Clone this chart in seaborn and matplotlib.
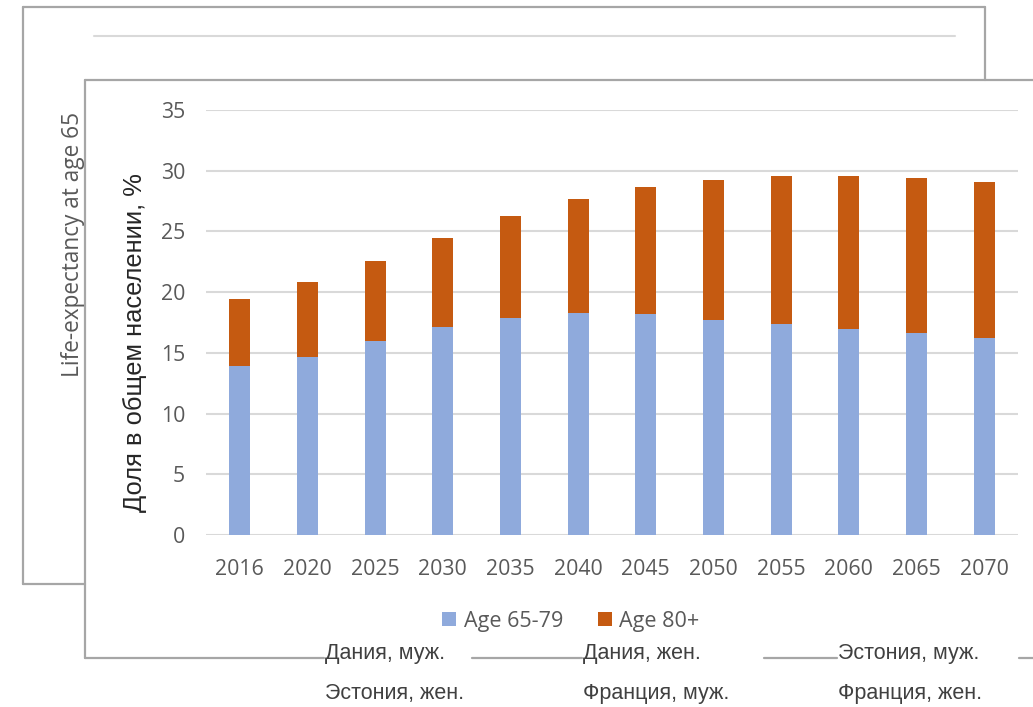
import matplotlib
matplotlib.use("Agg")
import matplotlib.pyplot as plt
from matplotlib.lines import Line2D
from matplotlib.patches import Patch
import seaborn as sns
import pandas as pd

# ---- data ----
years = ["2016", "2020", "2025", "2030", "2035", "2040", "2045", "2050", "2055", "2060", "2065", "2070"]
age_65_79 = [13.9, 14.7, 16.0, 17.1, 17.9, 18.3, 18.2, 17.7, 17.4, 17.0, 16.6, 16.2]
age_80_plus = [5.5, 6.1, 6.6, 7.4, 8.4, 9.4, 10.5, 11.5, 12.2, 12.6, 12.8, 12.9]
series_names = ["Age 65-79", "Age 80+"]
y_ticks = [0, 5, 10, 15, 20, 25, 30, 35]
back_legend = ["Дания, муж.", "Дания, жен.", "Эстония, муж.",
               "Эстония, жен.", "Франция, муж.", "Франция, жен."]
back_ylabel = "Life-expectancy at age 65"
front_ylabel = "Доля в общем населении, %"

BLUE = "#8FAADC"
ORANGE = "#C55A11"
GRID = "#D9D9D9"
TXT = "#595959"
BORDER = "#A6A6A6"

sns.set_theme(style="white")
plt.rcParams["font.family"] = ["Open Sans", "DejaVu Sans"]

W, H = 1033, 707
fig = plt.figure(figsize=(W / 100, H / 100), dpi=100)

def fx(x):
    return x / W

def fy(y):
    return 1 - y / H

def fline(xs, ys, color=BORDER, lw=1.6, z=1):
    fig.add_artist(Line2D([fx(x) for x in xs], [fy(y) for y in ys],
                          color=color, lw=lw, zorder=z, transform=fig.transFigure))

# ---- background panel ----
fline([23, 985], [7, 7])
fline([23, 23], [7, 584])
fline([23, 85], [584, 584])
fline([985, 985], [7, 80])
fline([94, 955], [36, 36], color=GRID, lw=1.5)
fig.text(fx(73), fy(244), back_ylabel, rotation=90, ha="center", va="center",
         color=TXT, fontsize=16.3, family=["Open Sans", "DejaVu Sans"])

# ---- front panel frame ----
fline([85, 1033], [80, 80])
fline([85, 85], [80, 658])
for a, b in [(85, 324), (472, 582), (764, 837), (1019, 1033)]:
    fline([a, b], [658, 658])

# ---- front chart ----
df = pd.DataFrame({"year": years,
                   "base": age_65_79,
                   "total": [a + b for a, b in zip(age_65_79, age_80_plus)]})

ax = fig.add_axes([fx(205.9), fy(535), (1017.9 - 205.9) / W, (535 - 110) / H])
sns.barplot(data=df, x="year", y="total", order=years, color=ORANGE,
            width=0.31, saturation=1, ax=ax, linewidth=0, zorder=3)
sns.barplot(data=df, x="year", y="base", order=years, color=BLUE,
            width=0.31, saturation=1, ax=ax, linewidth=0, zorder=4)

ax.set_xlim(-0.5, 11.5)
ax.set_ylim(0, 35)
ax.set_yticks(y_ticks)
ax.yaxis.grid(True, color=GRID, lw=1.5, zorder=0)
ax.set_axisbelow(True)
for s in ax.spines.values():
    s.set_visible(False)
ax.set_xlabel("")
ax.set_ylabel("")
ax.tick_params(axis="both", length=0, colors=TXT, labelsize=15.3)
ax.tick_params(axis="y", pad=15)
ax.tick_params(axis="x", pad=17)
ax.patch.set_alpha(0)

fig.text(fx(135), fy(343), front_ylabel, rotation=90, ha="center", va="center",
         color="#262626", fontsize=18.4, family=["Liberation Sans", "DejaVu Sans"])

handles = [Patch(facecolor=BLUE, edgecolor="none", label=series_names[0]),
           Patch(facecolor=ORANGE, edgecolor="none", label=series_names[1])]
leg = fig.legend(handles=handles, loc="center", bbox_to_anchor=(fx(571), fy(621)),
                 ncol=2, frameon=False, fontsize=15.5, handlelength=0.65,
                 handleheight=0.65, handletextpad=0.35, columnspacing=1.6)
for t in leg.get_texts():
    t.set_color(TXT)

# ---- background legend entries ----
pos = [(325, 654), (583, 654), (838, 654), (325, 694), (583, 694), (838, 694)]
for (x, y), lab in zip(pos, back_legend):
    fig.text(fx(x), fy(y), lab, ha="left", va="center", color="#404040",
             fontsize=15.5, family=["Liberation Sans", "DejaVu Sans"])

fig.savefig("out.png", dpi=100)
